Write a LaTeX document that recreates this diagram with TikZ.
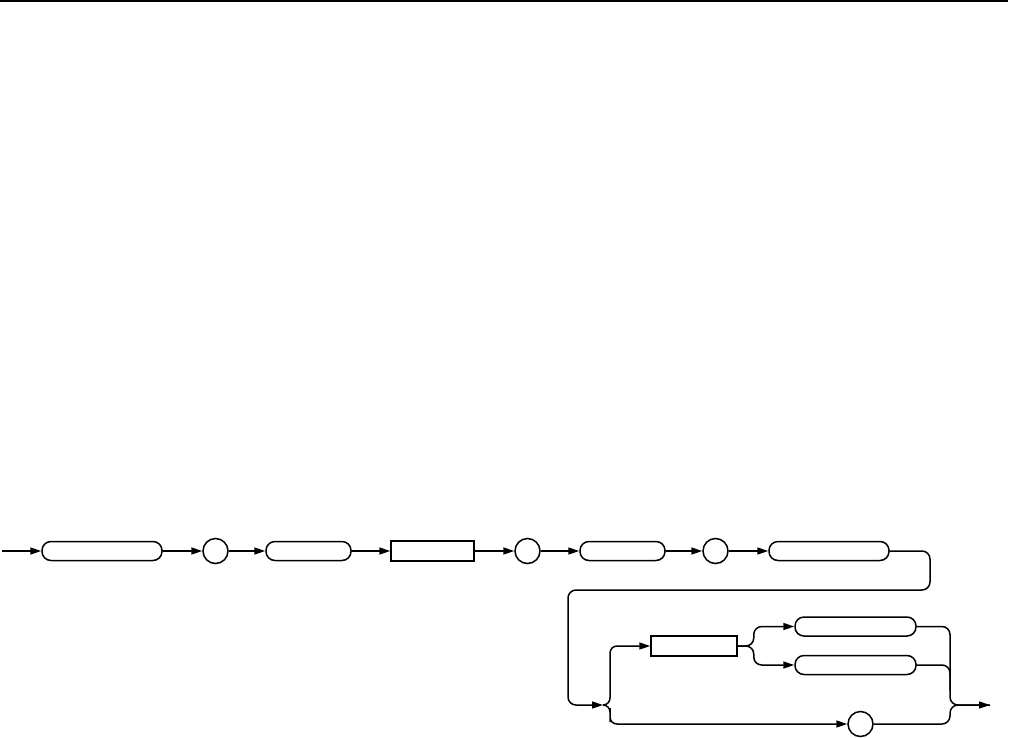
\documentclass[tikz,border=0pt]{standalone}
\usetikzlibrary{arrows.meta, positioning, calc}

\begin{document}
\begin{tikzpicture}[
		% Estilos del diagrama de sintaxis
		term/.style = {draw, rectangle, rounded corners=9pt, minimum height=19pt, inner sep=0pt},
		nonterm/.style = {draw, rectangle, minimum height=20pt, inner sep=0pt},
		lit/.style = {draw, circle, minimum size=25pt, inner sep=0pt},
		x=1pt, y=-1pt,
		line width=1.5pt,
		node distance=38.5pt,
		>={Triangle[length=11pt, width=7pt]}
		]
		
		\useasboundingbox (0,0) rectangle (1009,737);
		
		% --- LINEA SUPERIOR ---
		\coordinate (rule_l) at (0,1);
		\coordinate (rule_r) at (1008,1);
		\draw (rule_l) -- (rule_r);
		
		% --- FILA PRINCIPAL ---
		\coordinate (in) at (2,551);
		\node [term, minimum width=120pt] (kw1) at (102,551) {};
		\node [lit, right=39.5pt of kw1] (c1) {};
		\node [term, minimum width=85pt, right=36.5pt of c1] (kw2) {};
		\node [nonterm, minimum width=83pt, right=of kw2] (nt1) {};
		\node [lit, right=39.5pt of nt1] (c2) {};
		\node [term, minimum width=85pt, right=of c2] (kw3) {};
		\node [lit, right=36.5pt of kw3] (c3) {};
		\node [term, minimum width=120pt, right=39.5pt of c3] (kw4) {};
		
		\draw [->] (in) -- (kw1);
		\draw [->] (kw1) -- (c1);
		\draw [->] (c1) -- (kw2);
		\draw [->] (kw2) -- (nt1);
		\draw [->] (nt1) -- (c2);
		\draw [->] (c2) -- (kw3);
		\draw [->] (kw3) -- (c3);
		\draw [->] (c3) -- (kw4);
		
		% --- RETORNO HACIA LA SEGUNDA FILA ---
		\coordinate (turn_r) at (930,590);
		\coordinate (turn_l) at (568,590);
		\coordinate (split) at (603,705);
		\draw [->, rounded corners=8pt] (kw4.east) -| (turn_r) -- (turn_l) |- (split);
		
		% --- RAMAS ---
		\node [nonterm, minimum width=86pt] (nt2) at (694,646) {};
		\node [term, minimum width=121pt] (kwU) at (855.5,626.5) {};
		\node [term, minimum width=121pt, below=18pt of kwU] (kwL) {};
		\node [lit] (c4) at (860.5,724) {};
		
		\coordinate (fork) at ($(nt2.east)+(16,0)$);
		\coordinate (join) at (950,705);
		\coordinate (out) at (990,705);
		
		% Rama superior
		\draw [->, rounded corners=7pt] (split) -| ($(split)+(7,-30)$) |- (nt2.west);
		\draw [->, rounded corners=8pt] (nt2.east) -| (fork |- kwU.west) -- (kwU.west);
		\draw [->, rounded corners=8pt] (nt2.east) -| (fork |- kwL.west) -- (kwL.west);
		
		% Rama inferior
		\draw [->, rounded corners=7pt] (split) -| ($(split)+(7,10)$) |- (c4.west);
		
		% Unión de salida
		\draw [->, rounded corners=8pt] (kwU.east) -| (join) -- (out);
		\draw [rounded corners=8pt] (kwL.east) -| ($(join)+(0,-15)$);
		\draw [rounded corners=8pt] (c4.east) -| (join) -- (out);
		
	\end{tikzpicture}
\end{document}
